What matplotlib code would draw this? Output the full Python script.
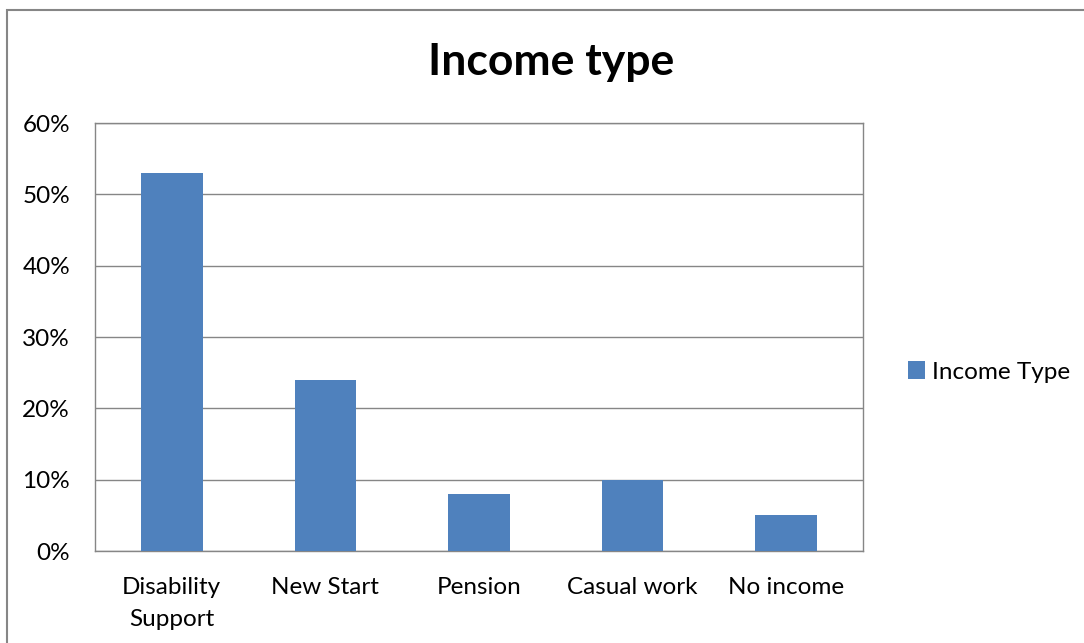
import numpy as np
import matplotlib.pyplot as plt
from matplotlib.patches import Rectangle
from matplotlib.ticker import PercentFormatter

plt.rcParams['font.family'] = ['Lato', 'DejaVu Sans']

# data
categories = ['Disability\nSupport', 'New Start', 'Pension', 'Casual work', 'No income']
values = [53, 24, 8, 10, 5]
series_name = 'Income Type'

fig = plt.figure(figsize=(10.84, 6.43), dpi=100)
ax = fig.add_axes([95/1084, 1 - 551/643, 768/1084, 428/643])

x = np.arange(len(categories))
ax.bar(x, values, width=0.4, color='#4F81BD', label=series_name, zorder=3)

ax.set_xlim(-0.5, len(categories) - 0.5)
ax.set_ylim(0, 60)
ax.set_yticks(np.arange(0, 61, 10))
ax.yaxis.set_major_formatter(PercentFormatter(decimals=0))
ax.set_xticks(x)
ax.set_xticklabels(categories, fontsize=17.5, linespacing=1.6)
ax.tick_params(axis='y', labelsize=17.5, length=0, pad=18)
ax.tick_params(axis='x', length=0, pad=19)
ax.grid(axis='y', color='#868686', linewidth=1, zorder=0)
for s in ax.spines.values():
    s.set_color('#868686')
    s.set_linewidth(1)

fig.text(551/1084, 1 - 62/643, 'Income type', ha='center', va='center',
         fontsize=32, fontweight='bold')

ax.legend(loc='center left', bbox_to_anchor=(886/1084, 1 - 372/643),
          bbox_transform=fig.transFigure, frameon=False, fontsize=17.5,
          handlelength=0.7, handleheight=0.7, handletextpad=0.3)

# outer chart border
fig.patches.append(Rectangle((7/1084, -0.1), 1.2, 1 - 10/643 + 0.1,
                             transform=fig.transFigure, fill=False,
                             edgecolor='#868686', linewidth=1.5))

fig.savefig('out.png', dpi=100)
